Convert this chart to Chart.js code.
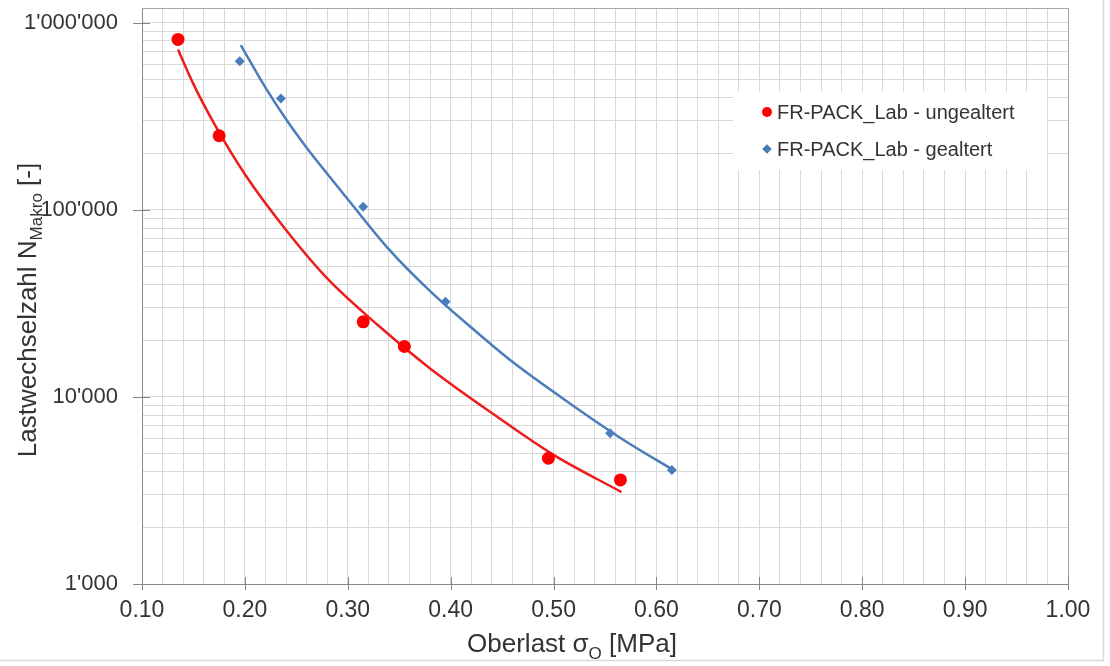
<!DOCTYPE html>
<html>
<head>
<meta charset="utf-8">
<script src="https://cdn.jsdelivr.net/npm/chart.js@4.4.1/dist/chart.umd.min.js"></script>
<style>
  html, body { margin: 0; padding: 0; background: #fff; }
  #wrap { width: 1110px; height: 666px; }
</style>
</head>
<body>
<div id="wrap"><canvas id="chart" width="1110" height="666"></canvas></div>
<script>
// ======================================================
// --- Daten ---
// ======================================================

// Messpunkte FR-PACK_Lab - ungealtert
const ungealtertX = [0.135, 0.175, 0.315, 0.355, 0.495, 0.565];
const ungealtertN = [815000, 249000, 25200, 18600, 4700, 3600];

// Messpunkte FR-PACK_Lab - gealtert
const gealtertX = [0.195, 0.235, 0.315, 0.395, 0.555, 0.615];
const gealtertN = [624000, 394000, 104000, 32300, 6390, 4070];

const trendUngealtertX = [0.135, 0.15, 0.17, 0.20, 0.24, 0.28, 0.33, 0.38, 0.44, 0.50, 0.566];
const trendUngealtertN = [720000, 470000, 290000, 155000, 78000, 43000, 24000, 14200, 8200, 4900, 3100];
const trendGealtertX = [0.196, 0.22, 0.24, 0.26, 0.28, 0.30, 0.34, 0.38, 0.42, 0.46, 0.52, 0.57, 0.616];
const trendGealtertN = [760000, 450000, 305000, 215000, 156000, 114000, 61500, 36800, 23500, 15400, 8900, 5800, 4080];

// Achsen
const xMajor = [0.1, 0.2, 0.3, 0.4, 0.5, 0.6, 0.7, 0.8, 0.9, 1.0];
const xTickLabels = ["0.10", "0.20", "0.30", "0.40", "0.50", "0.60", "0.70", "0.80", "0.90", "1.00"];
const yDecades = [1000, 10000, 100000, 1000000];
const yTickLabels = ["1'000", "10'000", "100'000", "1'000'000"];

const seriesLabels = ["FR-PACK_Lab - ungealtert", "FR-PACK_Lab - gealtert"];

// ======================================================
// --- Hilfsfunktionen ---
// ======================================================

const FONT = "'Liberation Sans', Arial, sans-serif";
const TEXT_COLOR = "#333333";
const RED = "#FF0000";
const RED_LINE = "#EE1D1D";
const BLUE = "#4A7EBB";

function toPoints(xs, ys) {
  return xs.map((x, i) => ({ x: x, y: ys[i] }));
}

// Gitterlinien: 0.02er Schritte bzw. 1..9 pro Dekade
const xGrid = [];
for (let i = 10; i <= 100; i += 2) xGrid.push(i / 100);
const yGrid = [];
yDecades.forEach((d, k) => {
  if (k === yDecades.length - 1) { yGrid.push(d); return; }
  for (let m = 1; m <= 9; m++) yGrid.push(m * d);
});

// Text mit tiefgestelltem Teil zeichnen
function drawParts(ctx, parts, x, y, rotate) {
  ctx.save();
  ctx.translate(x, y);
  if (rotate) ctx.rotate(-Math.PI / 2);
  ctx.fillStyle = TEXT_COLOR;
  ctx.textBaseline = "alphabetic";
  ctx.textAlign = "left";
  let total = 0;
  parts.forEach((p) => {
    ctx.font = p.size + "px " + FONT;
    p.w = ctx.measureText(p.text).width;
    total += p.w;
  });
  let cx = -total / 2;
  parts.forEach((p) => {
    ctx.font = p.size + "px " + FONT;
    ctx.fillText(p.text, cx, p.dy);
    cx += p.w;
  });
  ctx.restore();
}

// ======================================================
// --- Plugins: Rahmen, Achsentitel, Legende ---
// ======================================================

const framePlugin = {
  id: "frame",
  beforeDraw(chart) {
    const ctx = chart.ctx;
    ctx.save();
    ctx.fillStyle = "#fff";
    ctx.fillRect(0, 0, chart.width, chart.height);
    ctx.strokeStyle = "#D9D9D9";
    ctx.lineWidth = 1.5;
    ctx.beginPath();
    ctx.moveTo(1103.5, 0);
    ctx.lineTo(1103.5, 660.5);
    ctx.lineTo(0, 660.5);
    ctx.stroke();
    ctx.restore();
  },
  afterDraw(chart) {
    const ctx = chart.ctx;
    const a = chart.chartArea;
    const xs = chart.scales.x;
    const ys = chart.scales.y;
    ctx.save();
    // oberer und rechter Rand der Zeichenfläche
    ctx.strokeStyle = "#A6A6A6";
    ctx.lineWidth = 1;
    ctx.beginPath();
    ctx.moveTo(a.left, a.top + 0.5);
    ctx.lineTo(a.right + 0.5, a.top + 0.5);
    ctx.lineTo(a.right + 0.5, a.bottom);
    ctx.stroke();
    // kreuzende Teilstriche an den Hauptwerten
    ctx.strokeStyle = "#868686";
    ctx.beginPath();
    xMajor.forEach((v) => {
      const px = Math.round(xs.getPixelForValue(v)) + 0.5;
      ctx.moveTo(px, a.bottom - 7);
      ctx.lineTo(px, a.bottom + 6);
    });
    yDecades.forEach((v) => {
      const py = Math.round(ys.getPixelForValue(v)) + 0.5;
      ctx.moveTo(a.left - 9, py);
      ctx.lineTo(a.left + 8, py);
    });
    ctx.stroke();
    ctx.restore();

    // Achsentitel
    drawParts(ctx, [
      { text: "Oberlast σ", size: 26, dy: 0 },
      { text: "O", size: 17, dy: 7 },
      { text: " [MPa]", size: 26, dy: 0 },
    ], 572, 652, false);
    drawParts(ctx, [
      { text: "Lastwechselzahl N", size: 26, dy: 0 },
      { text: "Makro", size: 17, dy: 6 },
      { text: " [-]", size: 26, dy: 0 },
    ], 36, 310, true);

    // Legende
    ctx.save();
    ctx.fillStyle = "#fff";
    ctx.fillRect(733, 92, 314, 78);
    const rows = [
      { y: 112, style: "circle", color: RED, r: 5 },
      { y: 149, style: "rectRot", color: BLUE, r: 4.5 },
    ];
    rows.forEach((row, i) => {
      Chart.helpers.drawPoint(ctx, {
        pointStyle: row.style, radius: row.r, borderWidth: 0,
      }, 767, row.y);
      ctx.fillStyle = row.color;
      ctx.fill();
      ctx.fillStyle = TEXT_COLOR;
      ctx.font = "20px " + FONT;
      ctx.textBaseline = "middle";
      ctx.textAlign = "left";
      ctx.fillText(seriesLabels[i], 777, row.y + 1);
    });
    ctx.restore();
  },
};

// ======================================================
// --- Diagramm ---
// ======================================================

new Chart(document.getElementById("chart"), {
  type: "scatter",
  data: {
    datasets: [
      {
        label: seriesLabels[0],
        data: toPoints(ungealtertX, ungealtertN),
        pointStyle: "circle",
        pointRadius: 6.5,
        pointBackgroundColor: RED,
        pointBorderWidth: 0,
        showLine: false,
      },
      {
        label: seriesLabels[1],
        data: toPoints(gealtertX, gealtertN),
        pointStyle: "rectRot",
        pointRadius: 5,
        pointBackgroundColor: BLUE,
        pointBorderWidth: 0,
        showLine: false,
      },
      {
        label: "Trend ungealtert",
        data: toPoints(trendUngealtertX, trendUngealtertN),
        showLine: true,
        borderColor: RED_LINE,
        borderWidth: 2.5,
        pointRadius: 0,
        cubicInterpolationMode: "monotone",
      },
      {
        label: "Trend gealtert",
        data: toPoints(trendGealtertX, trendGealtertN),
        showLine: true,
        borderColor: BLUE,
        borderWidth: 2.5,
        pointRadius: 0,
        cubicInterpolationMode: "monotone",
      },
    ],
  },
  options: {
    responsive: false,
    animation: false,
    devicePixelRatio: 1,
    layout: { padding: { left: 0, top: 8, right: 42, bottom: 0 } },
    plugins: {
      legend: { display: false },
      tooltip: { enabled: false },
    },
    scales: {
      x: {
        type: "linear",
        min: 0.1,
        max: 1.0,
        afterBuildTicks: (scale) => {
          scale.ticks = xGrid.map((v) => ({ value: v }));
        },
        afterFit: (scale) => {
          scale.height = 82;
          scale.paddingLeft = 0;
          scale.paddingRight = 0;
        },
        ticks: {
          autoSkip: false,
          maxRotation: 0,
          padding: 13,
          color: TEXT_COLOR,
          font: { family: FONT, size: 23 },
          callback: (value) => {
            const i = xMajor.findIndex((m) => Math.abs(m - value) < 1e-9);
            return i >= 0 ? xTickLabels[i] : "";
          },
        },
        grid: { color: "#D9D9D9", lineWidth: 1, drawTicks: false },
        border: { color: "#868686", width: 1 },
      },
      y: {
        type: "logarithmic",
        min: 1000,
        max: 1200000,
        afterBuildTicks: (scale) => {
          scale.ticks = yGrid.map((v) => ({ value: v }));
        },
        afterFit: (scale) => {
          scale.width = 142;
          scale.paddingTop = 0;
          scale.paddingBottom = 0;
        },
        ticks: {
          autoSkip: false,
          padding: 24,
          color: TEXT_COLOR,
          font: { family: FONT, size: 22 },
          callback: (value) => {
            const i = yDecades.indexOf(value);
            return i >= 0 ? yTickLabels[i] : "";
          },
        },
        grid: { color: "#D9D9D9", lineWidth: 1, drawTicks: false },
        border: { color: "#868686", width: 1 },
      },
    },
  },
  plugins: [framePlugin],
});
</script>
</body>
</html>
